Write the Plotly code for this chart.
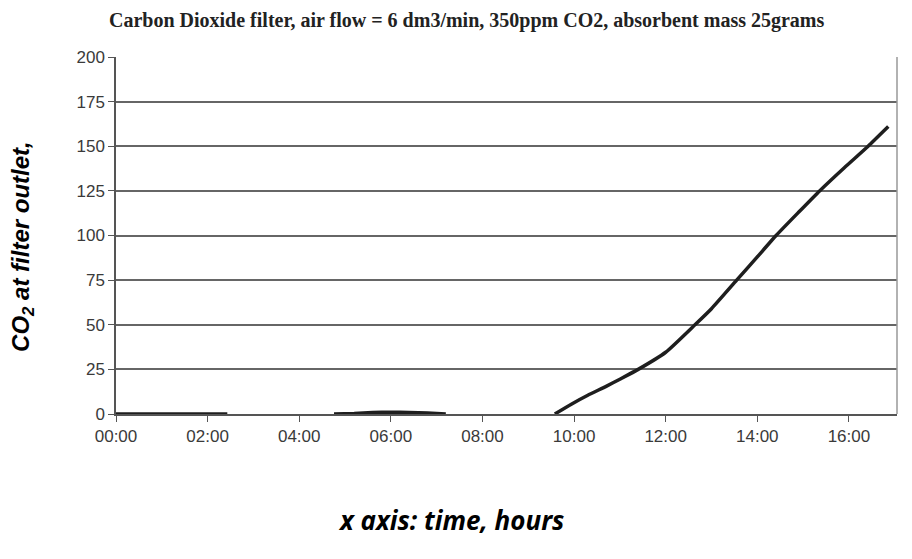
import plotly.graph_objects as go

# time in hours, CO2 at filter outlet (ppm); None = gap in the recorded trace
hours = [0.0, 0.5, 1.0, 1.5, 2.0, 2.43, None,
         4.76, 5.2, 5.6, 6.0, 6.4, 6.8, 7.2, None,
         9.58, 9.94, 10.3, 10.7, 11.0, 11.4, 12.0, 12.64, 13.0, 13.55,
         14.0, 14.41, 14.9, 15.36, 15.9, 16.42, 16.86]
co2 = [0.0, 0.0, 0.0, 0.0, 0.0, 0.0, None,
       0.0, 0.3, 0.8, 1.0, 0.9, 0.5, 0.0, None,
       0.0, 5.5, 10.5, 15.5, 19.5, 25.0, 34.6, 50.0, 59.0, 75.0,
       88.0, 100.0, 113.0, 125.0, 138.0, 150.0, 161.0]

x_ticks = [0, 2, 4, 6, 8, 10, 12, 14, 16]
x_labels = ["00:00", "02:00", "04:00", "06:00", "08:00", "10:00", "12:00", "14:00", "16:00"]
y_ticks = [0, 25, 50, 75, 100, 125, 150, 175, 200]

fig = go.Figure()
fig.add_trace(go.Scatter(x=hours, y=co2, mode="lines", connectgaps=False,
                         line=dict(color="#1e1e1e", width=3.5, shape="spline", smoothing=0.5),
                         showlegend=False))

fig.update_layout(
    width=896, height=543,
    margin=dict(l=108, r=7, t=49, b=137),
    paper_bgcolor="white", plot_bgcolor="white",
    font=dict(family="Liberation Sans, Arial, sans-serif", color="#333"),
)
fig.update_xaxes(range=[0, 17.05], tickvals=x_ticks, ticktext=x_labels,
                 showgrid=False, zeroline=False, showline=True, linecolor="#555", linewidth=1.5,
                 ticks="outside", ticklen=6, tickcolor="#555",
                 tickfont=dict(size=17, color="#3a3a3a"))
fig.update_yaxes(range=[0, 200], tickvals=y_ticks,
                 showgrid=True, gridcolor="#666", gridwidth=1.5, zeroline=False,
                 showline=True, linecolor="#555", linewidth=1.5,
                 ticks="outside", ticklen=6, tickcolor="#555",
                 tickfont=dict(size=17, color="#3a3a3a"))

# faint right border of the plot area
fig.add_shape(type="line", xref="paper", yref="paper", x0=1, x1=1, y0=0, y1=1,
              line=dict(color="#999", width=1.5))

fig.add_annotation(text="<b>Carbon Dioxide filter, air flow = 6 dm3/min, 350ppm CO2, absorbent mass 25grams</b>",
                   xref="paper", yref="paper", x=0.449, y=1, yanchor="middle", yshift=37,
                   showarrow=False,
                   font=dict(family="Liberation Serif, Times New Roman, serif", size=20, color="#222"))
fig.add_annotation(text="<b><i>CO<sub>2</sub> at filter outlet,</i></b>",
                   xref="paper", yref="paper", x=0, xanchor="center", xshift=-93,
                   y=0.468, yanchor="middle", textangle=-90, showarrow=False,
                   font=dict(family="Liberation Sans, Arial, sans-serif", size=24, color="black"))
fig.add_annotation(text="<b><i>x axis: time, hours</i></b>",
                   xref="paper", yref="paper", x=0.429, y=0, yanchor="middle", yshift=-106,
                   showarrow=False,
                   font=dict(family="Open Sans, Calibri, sans-serif", size=26, color="black"))

fig.write_html("out.html")
